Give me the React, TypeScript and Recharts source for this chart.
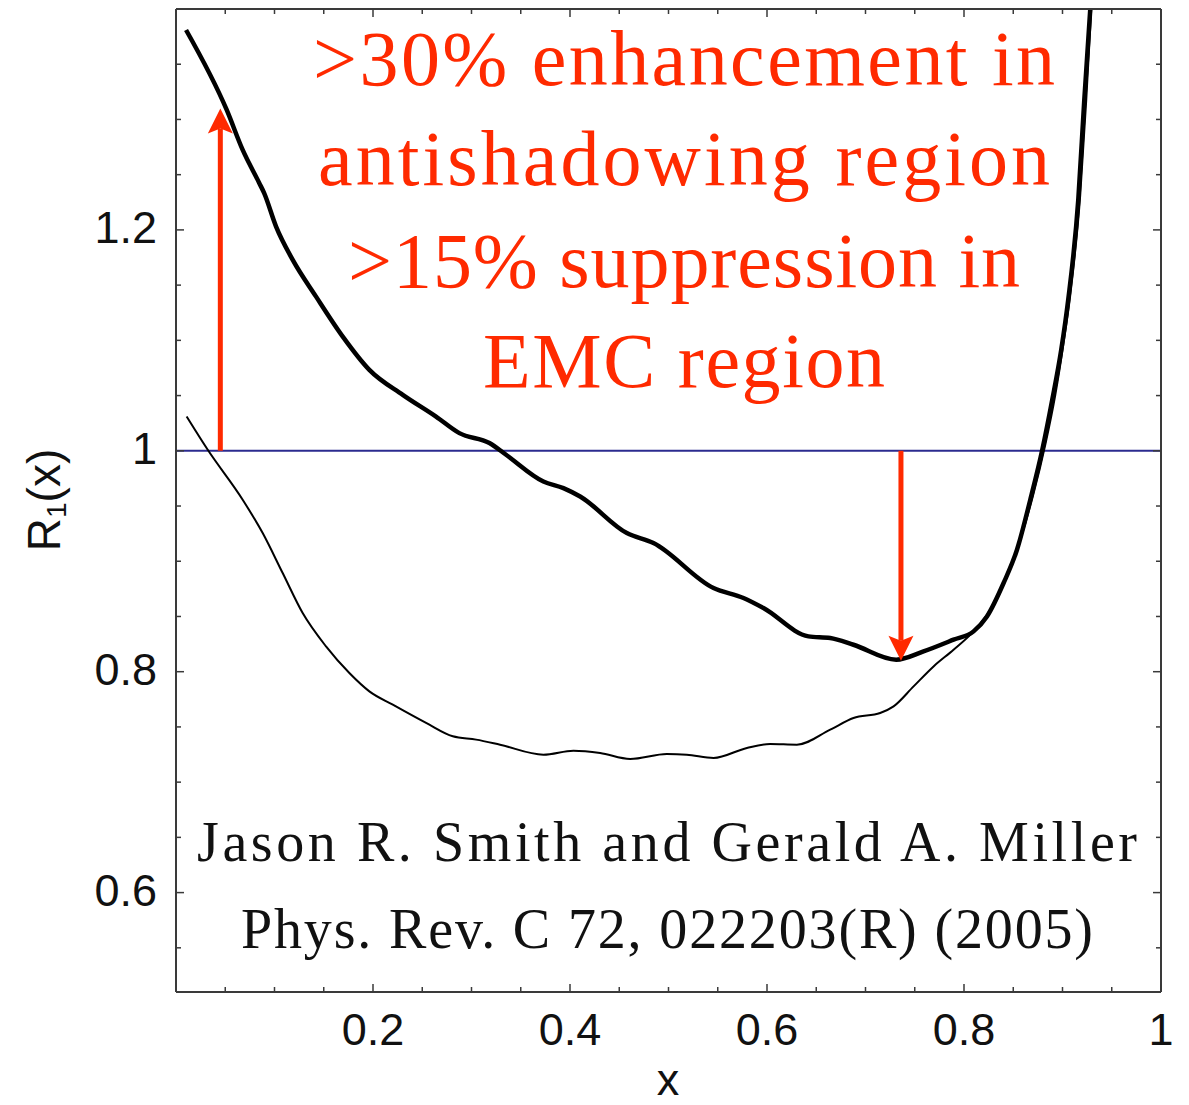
import React from "react";
import { LineChart, Line, XAxis, YAxis, ReferenceLine } from "recharts";

// upper (thick) curve
const upperX = [
  0.0102, 0.0515, 0.0677, 0.0846, 0.0894, 0.1016, 0.1185, 0.1422, 0.1693, 0.1963,
  0.2302, 0.264, 0.2877, 0.3182, 0.3351, 0.373, 0.3933, 0.4103, 0.4577, 0.4847,
  0.5457, 0.5761, 0.5964, 0.6421, 0.6642, 0.6878, 0.7312, 0.7589, 0.7894, 0.8097,
  0.8233, 0.8402, 0.8538, 0.8673, 0.8795, 0.8896, 0.8987, 0.9058, 0.916, 0.9221, 0.9282,
];
const upperR = [
  1.381, 1.3086, 1.2724, 1.2423, 1.2335, 1.203, 1.1729, 1.1396, 1.1034, 1.0733,
  1.0507, 1.031, 1.016, 1.007, 0.9964, 0.9722, 0.9662, 0.9586, 0.9255, 0.9165,
  0.8757, 0.8667, 0.8576, 0.832, 0.8305, 0.8244, 0.8109, 0.8184, 0.829, 0.8365,
  0.85, 0.8803, 0.9104, 0.9557, 1.0009, 1.0462, 1.0914, 1.1367, 1.2271, 1.3176, 1.4,
];

// lower (thin) curve
const lowerX = [
  0.0108, 0.0322, 0.0677, 0.088, 0.1083, 0.1286, 0.1523, 0.176, 0.1963, 0.2201,
  0.2539, 0.281, 0.3047, 0.329, 0.373, 0.4035, 0.4306, 0.4611, 0.4983, 0.5186,
  0.5457, 0.5796, 0.6032, 0.6303, 0.6642, 0.6878, 0.7149, 0.7285, 0.7488, 0.7691,
  0.7894, 0.8097, 0.8267, 0.8419, 0.8571, 0.8703, 0.8825, 0.8927, 0.9008, 0.9079,
  0.918, 0.9241, 0.9292,
];
const lowerR = [
  1.031, 1.0009, 0.9557, 0.9255, 0.8893, 0.8531, 0.8229, 0.7988, 0.7822, 0.7701,
  0.7536, 0.7415, 0.7385, 0.7339, 0.7249, 0.7285, 0.7264, 0.721, 0.7255, 0.7249,
  0.7219, 0.731, 0.7346, 0.7339, 0.7475, 0.7581, 0.7626, 0.7686, 0.7867, 0.8048,
  0.8199, 0.8365, 0.8561, 0.8833, 0.9195, 0.9602, 1.0054, 1.0507, 1.0959, 1.1412,
  1.2317, 1.3176, 1.4,
];

const xTicks = [
  0.05, 0.1, 0.15, 0.2, 0.25, 0.3, 0.35, 0.4, 0.45, 0.5,
  0.55, 0.6, 0.65, 0.7, 0.75, 0.8, 0.85, 0.9, 0.95, 1,
];
const xTickLabels = [0.2, 0.4, 0.6, 0.8, 1];
const yTicks = [
  0.55, 0.6, 0.65, 0.7, 0.75, 0.8, 0.85, 0.9, 0.95, 1,
  1.05, 1.1, 1.15, 1.2, 1.25, 1.3, 1.35,
];
const yTickLabels = [0.6, 0.8, 1, 1.2];

// arrows: x position, start R, end R
const arrowX = [0.045, 0.736];
const arrowFrom = [1, 1];
const arrowTo = [1.31, 0.81];

const noteLines = [
  ">30% enhancement in",
  "antishadowing region",
  ">15% suppression in",
  "EMC region",
];
const citeLines = [
  "Jason R. Smith and Gerald A. Miller",
  "Phys. Rev. C 72, 022203(R) (2005)",
];

const RED = "#ff2a00";
const FRAME = "#3a3a3a";
const SANS = "'Liberation Sans', Arial, sans-serif";
const SERIF = "'Liberation Serif', 'Times New Roman', serif";

const upper = upperX.map((x, i) => ({ x, r: upperR[i] }));
const lower = lowerX.map((x, i) => ({ x, r: lowerR[i] }));

const isMajor = (list: number[], v: number) =>
  list.some((m) => Math.abs(m - v) < 1e-6);

const BottomTick = (p: any) => {
  const { x, y, payload } = p;
  const major = isMajor(xTickLabels, payload.value);
  return (
    <g>
      <line x1={x} x2={x} y1={y} y2={y - (major ? 8 : 5)} stroke={FRAME} strokeWidth={1.5} />
      {major && (
        <text x={x} y={y + 53} textAnchor="middle" fontFamily={SANS} fontSize={45} fill="#111">
          {String(payload.value)}
        </text>
      )}
    </g>
  );
};

const TopTick = (p: any) => {
  const { x, y, payload } = p;
  const major = isMajor(xTickLabels, payload.value);
  return <line x1={x} x2={x} y1={y} y2={y + (major ? 8 : 5)} stroke={FRAME} strokeWidth={1.5} />;
};

const LeftTick = (p: any) => {
  const { x, y, payload } = p;
  const major = isMajor(yTickLabels, payload.value);
  return (
    <g>
      <line x1={x} x2={x + (major ? 8 : 5)} y1={y} y2={y} stroke={FRAME} strokeWidth={1.5} />
      {major && (
        <text x={x - 19} y={y + 13} textAnchor="end" fontFamily={SANS} fontSize={45} fill="#111">
          {String(payload.value)}
        </text>
      )}
    </g>
  );
};

const RightTick = (p: any) => {
  const { x, y, payload } = p;
  const major = isMajor(yTickLabels, payload.value);
  return <line x1={x} x2={x - (major ? 8 : 5)} y1={y} y2={y} stroke={FRAME} strokeWidth={1.5} />;
};

const Arrow = (p: any) => {
  const { x1, y1, x2, y2 } = p;
  const dir = y2 < y1 ? -1 : 1;
  const head = 25;
  const half = 12.5;
  const back = y2 - dir * head;
  const notch = y2 - dir * (head - 5);
  return (
    <g>
      <line x1={x1} y1={y1} x2={x2} y2={notch} stroke={RED} strokeWidth={5} />
      <polygon
        points={`${x2},${y2} ${x2 - half},${back} ${x2},${notch} ${x2 + half},${back}`}
        fill={RED}
      />
    </g>
  );
};

const noteWidths = [742, 732, 672, 402];
const noteBase = [85, 185, 287, 387];
const citeWidths = [940, 852];
const citeBase = [861, 948];

export default function App() {
  return (
    <div style={{ width: 1189, height: 1105, background: "#fff" }}>
      <style>{`body{margin:0}`}</style>
      <LineChart
        width={1189}
        height={1105}
        margin={{ top: 8, right: 27, bottom: 0, left: 0 }}
      >
        <XAxis
          dataKey="x"
          type="number"
          domain={[0, 1]}
          allowDataOverflow
          ticks={xTicks}
          interval={0}
          tickSize={0}
          tickMargin={0}
          height={113}
          axisLine={{ stroke: FRAME, strokeWidth: 2 }}
          tickLine={false}
          tick={BottomTick}
        />
        <XAxis
          xAxisId="top"
          orientation="top"
          dataKey="x"
          type="number"
          domain={[0, 1]}
          allowDataOverflow
          ticks={xTicks}
          interval={0}
          tickSize={0}
          tickMargin={0}
          height={1}
          axisLine={{ stroke: FRAME, strokeWidth: 2 }}
          tickLine={false}
          tick={TopTick}
        />
        <YAxis
          type="number"
          domain={[0.51, 1.4]}
          allowDataOverflow
          ticks={yTicks}
          interval={0}
          tickSize={0}
          tickMargin={0}
          width={176}
          axisLine={{ stroke: FRAME, strokeWidth: 2 }}
          tickLine={false}
          tick={LeftTick}
        />
        <YAxis
          yAxisId="right"
          orientation="right"
          type="number"
          domain={[0.51, 1.4]}
          allowDataOverflow
          ticks={yTicks}
          interval={0}
          tickSize={0}
          tickMargin={0}
          width={1}
          axisLine={{ stroke: FRAME, strokeWidth: 2 }}
          tickLine={false}
          tick={RightTick}
        />
        <ReferenceLine y={1} stroke="#2b2b8f" strokeWidth={2} />
        <Line
          data={lower}
          xAxisId="top"
          yAxisId="right"
          dataKey="r"
          type="monotone"
          stroke="#000"
          strokeWidth={2}
          dot={false}
          isAnimationActive={false}
        />
        <Line
          data={upper}
          dataKey="r"
          type="monotone"
          stroke="#000"
          strokeWidth={4.5}
          dot={false}
          isAnimationActive={false}
        />
        {arrowX.map((ax, i) => (
          <ReferenceLine
            key={`arrow-${i}`}
            segment={[
              { x: ax, y: arrowFrom[i] },
              { x: ax, y: arrowTo[i] },
            ]}
            shape={Arrow}
          />
        ))}
        {noteLines.map((t, i) => (
          <text
            key={`note-${i}`}
            x={684}
            y={noteBase[i]}
            textAnchor="middle"
            fontFamily={SERIF}
            fontSize={78}
            fill={RED}
            textLength={noteWidths[i]}
            lengthAdjust="spacing"
          >
            {t}
          </text>
        ))}
        {citeLines.map((t, i) => (
          <text
            key={`cite-${i}`}
            x={667}
            y={citeBase[i]}
            textAnchor="middle"
            fontFamily={SERIF}
            fontSize={56}
            fill="#111"
            textLength={citeWidths[i]}
            lengthAdjust="spacing"
          >
            {t}
          </text>
        ))}
        <text x={668} y={1095} textAnchor="middle" fontFamily={SANS} fontSize={45} fill="#111">
          x
        </text>
        <text
          transform="translate(60,500) rotate(-90)"
          textAnchor="middle"
          fontFamily={SANS}
          fontSize={46}
          fill="#111"
        >
          R<tspan fontSize={28} dy={6}>1</tspan>
          <tspan dy={-6}>(x)</tspan>
        </text>
      </LineChart>
    </div>
  );
}
